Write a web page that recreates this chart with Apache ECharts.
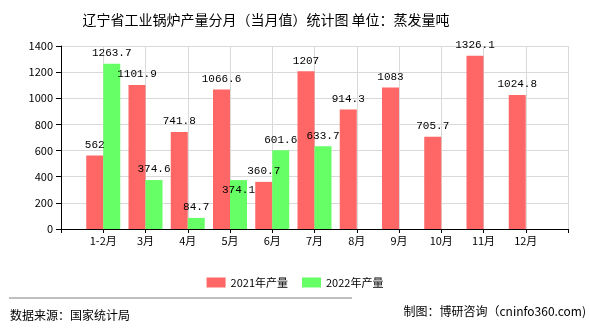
<!DOCTYPE html>
<html>
<head>
<meta charset="utf-8">
<script src="https://cdn.jsdelivr.net/npm/echarts@6/dist/echarts.min.js"></script>
<style>
  html, body { margin: 0; padding: 0; background: #fff; }
  #chart { width: 590px; height: 330px; }
</style>
</head>
<body>
<div id="chart"></div>
<script>
// Monthly boiler output, Liaoning (unit: tons of evaporation)
const months = ['1-2月', '3月', '4月', '5月', '6月', '7月', '8月', '9月', '10月', '11月', '12月'];
const output2021 = [562, 1101.9, 741.8, 1066.6, 360.7, 1207, 914.3, 1083, 705.7, 1326.1, 1024.8];
const output2022 = [1263.7, 374.6, 84.7, 374.1, 601.6, 633.7, null, null, null, null, null];
const yTicks = [0, 200, 400, 600, 800, 1000, 1200, 1400];

const seriesNames = ['2021年产量', '2022年产量'];
const colors = ['#ff6666', '#66ff66'];
const monoFont = '"Liberation Mono", "DejaVu Sans Mono", monospace';
const cjkFont = '"Noto Sans CJK SC", sans-serif';

// Axis has an empty slot at each end so the month groups sit on the ticks
const axisCats = [''].concat(months, ['']);
function pad(arr) { return [null].concat(arr, [null]); }

// One label is pushed down to keep it clear of its neighbour
function build2022(arr) {
  return pad(arr).map(function (v) {
    if (v === 374.1) {
      return { value: v, label: { offset: [0, 20] } };
    }
    return v;
  });
}

const chart = echarts.init(document.getElementById('chart'), null, { renderer: 'canvas' });

const labelStyle = {
  show: true,
  position: 'top',
  color: '#000',
  fontFamily: monoFont,
  fontSize: 11,
  formatter: function (p) { return p.value == null ? '' : String(p.value); }
};

chart.setOption({
  animation: false,
  backgroundColor: '#fff',
  title: {
    text: '辽宁省工业锅炉产量分月（当月值）统计图 单位：蒸发量吨',
    left: 261,
    textAlign: 'center',
    top: 8,
    textStyle: { fontFamily: cjkFont, fontSize: 14, fontWeight: 'normal', color: '#000' }
  },
  legend: {
    data: seriesNames,
    left: 'center',
    top: 272,
    icon: 'rect',
    itemWidth: 19,
    itemHeight: 10,
    itemGap: 14,
    textStyle: { fontFamily: cjkFont, fontSize: 11, color: '#000' }
  },
  grid: { left: 61, right: 22, top: 46, bottom: 101 },
  xAxis: {
    type: 'category',
    data: axisCats,
    boundaryGap: false,
    axisLine: { lineStyle: { color: '#000', width: 1 } },
    axisTick: { show: true, interval: 0, length: 4, lineStyle: { color: '#000' } },
    axisLabel: { interval: 0, color: '#000', fontFamily: cjkFont, fontSize: 11, margin: 6 },
    splitLine: { show: true, interval: 0, lineStyle: { color: '#d9d9d9' } }
  },
  yAxis: {
    type: 'value',
    min: yTicks[0],
    max: yTicks[yTicks.length - 1],
    interval: yTicks[1] - yTicks[0],
    axisLine: { show: true, lineStyle: { color: '#000', width: 1 } },
    axisTick: { show: true, length: 5, lineStyle: { color: '#000' } },
    axisLabel: {
      color: '#000', fontFamily: cjkFont, fontSize: 11, margin: 8,
      formatter: function (v) { return String(v); }
    },
    splitLine: { show: true, lineStyle: { color: '#d9d9d9' } }
  },
  series: [
    {
      name: seriesNames[0],
      type: 'bar',
      data: pad(output2021),
      barWidth: 17,
      barGap: '0%',
      itemStyle: { color: colors[0] },
      label: labelStyle
    },
    {
      name: seriesNames[1],
      type: 'bar',
      data: build2022(output2022),
      barWidth: 17,
      barGap: '0%',
      itemStyle: { color: colors[1] },
      label: labelStyle
    }
  ],
  graphic: [
    {
      type: 'line',
      shape: { x1: 9, y1: 298, x2: 352, y2: 298 },
      style: { stroke: '#808080', lineWidth: 1 }
    },
    {
      type: 'text',
      left: 10,
      top: 309,
      style: { text: '数据来源：国家统计局', font: '12px ' + cjkFont, fill: '#000' }
    },
    {
      type: 'text',
      right: 4,
      top: 305,
      style: { text: '制图：博研咨询（cninfo360.com)', font: '12px ' + cjkFont, fill: '#000' }
    }
  ]
});
</script>
</body>
</html>
